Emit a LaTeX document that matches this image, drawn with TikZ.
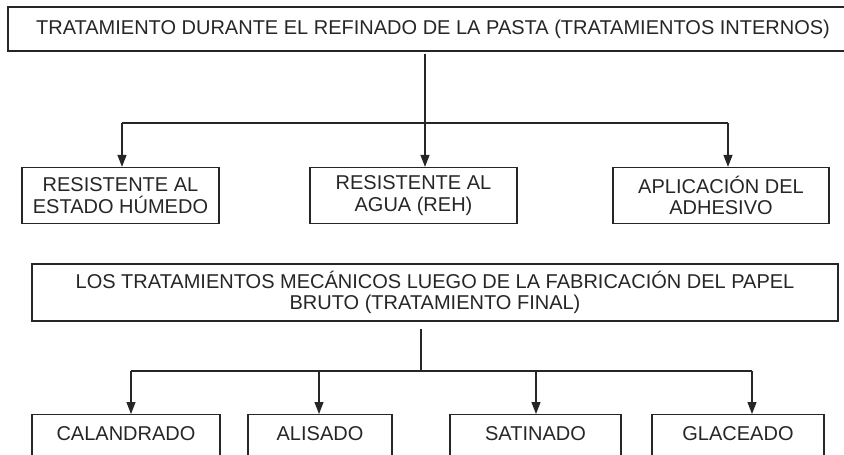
\documentclass[tikz,border=0pt]{standalone}
\usepackage{fontspec}
\setmainfont{Liberation Sans}
\usetikzlibrary{arrows.meta}
\begin{document}
\begin{tikzpicture}[x=1pt,y=-1pt,
  every node/.style={font=\fontsize{20}{21.5}\selectfont, text=black!85},
  boxn/.style={draw=black!85, line width=1.2pt, align=center, inner sep=0pt},
  conn/.style={draw=black!85, line width=1.2pt},
  arr/.style={conn, -{Triangle[length=12pt,width=9pt]}}]
\useasboundingbox (0,0) rectangle (844,455);
\clip (0,0) rectangle (844,455);
% top header
\node[boxn, minimum width=850, minimum height=44] (h1) at (433,29)
  {TRATAMIENTO DURANTE EL REFINADO DE LA PASTA (TRATAMIENTOS INTERNOS)};
% middle boxes
\node[boxn, minimum width=197, minimum height=56] (m1) at (120.5,195.5) {RESISTENTE AL\\ESTADO HÚMEDO};
\node[boxn, minimum width=207, minimum height=56] (m2) at (413.5,195.5) {RESISTENTE AL\\AGUA (REH)};
\node[boxn, minimum width=216, minimum height=56] (m3) at (721,195.5) {APLICACIÓN DEL\\ADHESIVO};
\coordinate (j1) at (425,123);
\coordinate (ja) at (122,123);
\coordinate (jc) at (728,123);
\draw[conn] (h1.south -| j1) ++(0,2) -- (j1);
\draw[conn] (ja) -- (jc);
\draw[arr] (ja) -- (m1.north -| ja);
\draw[arr] (j1) -- (m2.north -| j1);
\draw[arr] (jc) -- (m3.north -| jc);
% second header
\node[boxn, minimum width=806, minimum height=57] (h2) at (435,292.5)
  {LOS TRATAMIENTOS MECÁNICOS LUEGO DE LA FABRICACIÓN DEL PAPEL\\BRUTO (TRATAMIENTO FINAL)};
% bottom boxes
\tikzset{lowbox/.style={boxn, anchor=north, text height=26pt, text depth=32pt}}
\node[lowbox, minimum width=188] (b1) at (126,414) {CALANDRADO};
\node[lowbox, minimum width=144] (b2) at (320,414) {ALISADO};
\node[lowbox, minimum width=171] (b3) at (535.5,414) {SATINADO};
\node[lowbox, minimum width=172] (b4) at (738,414) {GLACEADO};
\coordinate (j2) at (421,371);
\coordinate (k1) at (131,371);
\coordinate (k2) at (319,371);
\coordinate (k3) at (536,371);
\coordinate (k4) at (752,371);
\draw[conn] (h2.south -| j2) ++(0,7) -- (j2);
\draw[conn] (k1) -- (k4);
\draw[arr] (k1) -- (b1.north -| k1);
\draw[arr] (k2) -- (b2.north -| k2);
\draw[arr] (k3) -- (b3.north -| k3);
\draw[arr] (k4) -- (b4.north -| k4);
\end{tikzpicture}
\end{document}
